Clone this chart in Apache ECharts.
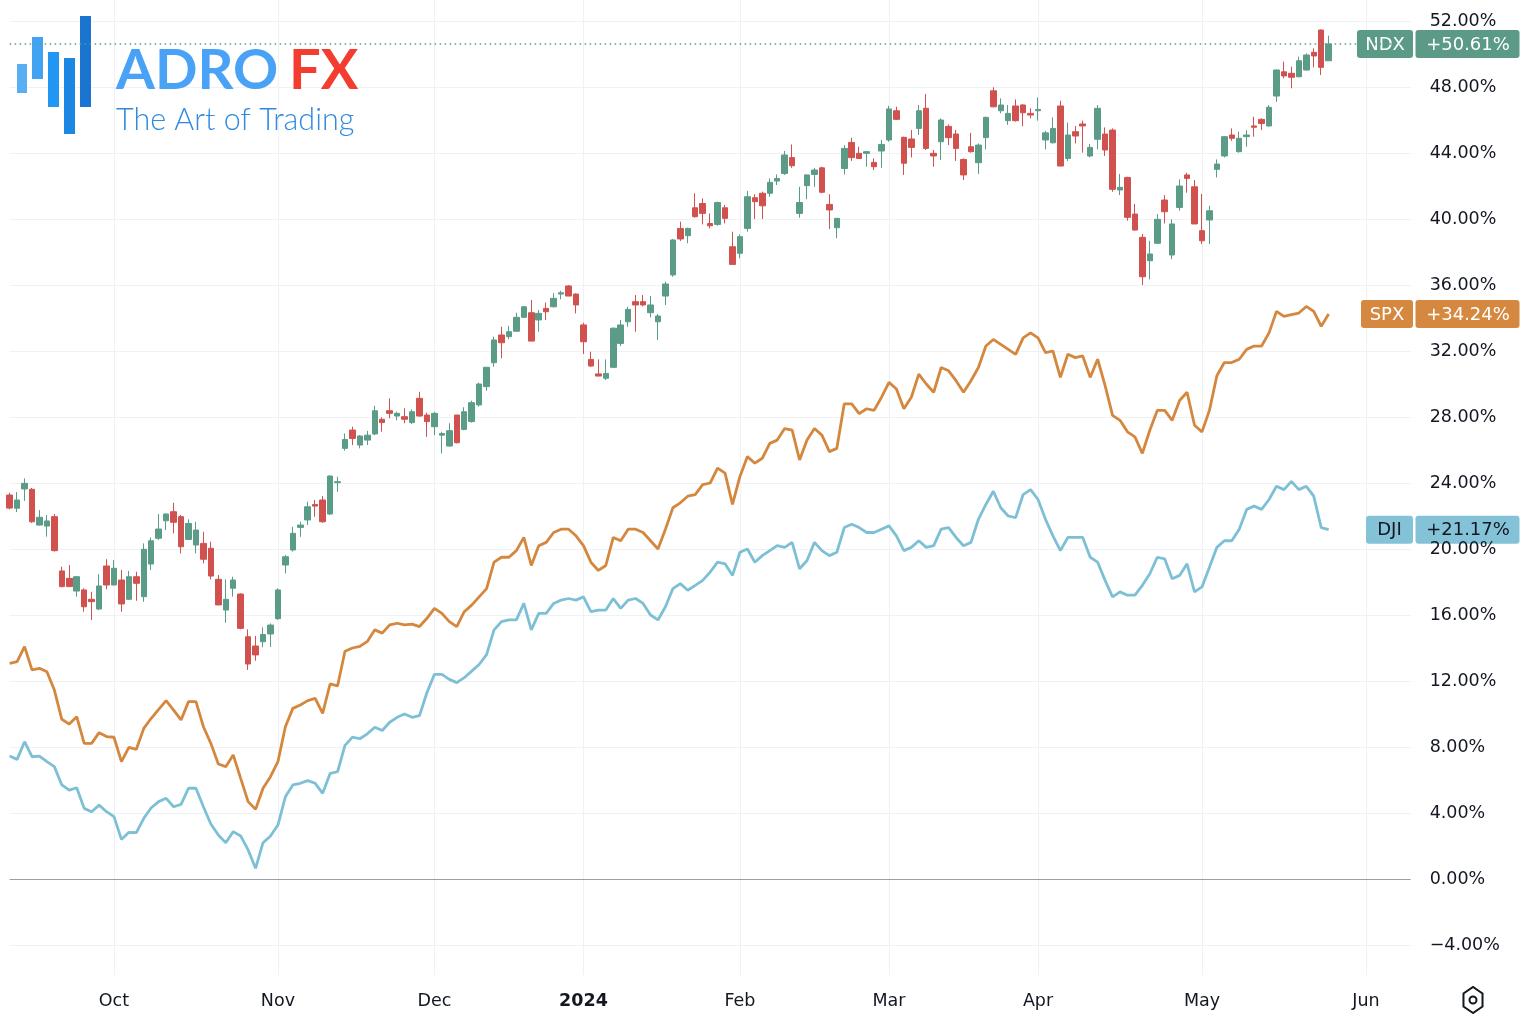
<!DOCTYPE html>
<html>
<head>
<meta charset="utf-8">
<script src="https://cdn.jsdelivr.net/npm/echarts@6/dist/echarts.min.js"></script>
<style>
html,body{margin:0;padding:0;background:#ffffff;}
#chart{width:1522px;height:1016px;}
</style>
</head>
<body>
<div id="chart"></div>
<script>
// ---------- DATA ----------
const firstDay = '2023-09-12';
const holidays = ['2023-11-23','2023-12-25','2024-01-01','2024-01-15','2024-02-19','2024-03-29','2024-05-27','2024-06-19'];
const categoryCount = 189;

const ndxOpen = [23.27,22.47,23.64,23.62,21.45,21.39,21.96,18.67,18.22,17.45,17.52,16.95,16.36,18.97,17.82,18.12,16.95,18.32,17.11,19.09,
20.65,21.71,22.26,21.96,20.58,20.24,20.34,20.04,18.16,16.30,17.62,17.27,14.68,14.12,14.38,14.85,15.78,19.03,19.94,21.31,
21.76,22.7,22.97,22.12,24.02,26.1,27.21,26.3,26.6,26.97,27.86,28.38,28.06,28.02,27.66,29.13,28.12,27.41,26.9,26.24,
28.12,27.25,27.72,28.73,29.84,31.29,32.97,32.87,33.2,34.04,34.32,33.88,34.58,34.68,35.45,35.94,35.45,33.58,31.49,30.61,
30.35,31.01,32.46,33.77,34.99,34.99,34.32,33.77,35.33,36.61,39.43,38.99,40.68,40.94,39.73,39.67,40.68,38.32,37.92,39.43,
41.29,41.56,41.56,42.3,42.76,43.72,40.34,42.02,42.7,43.1,40.88,39.47,43.06,44.64,43.98,43.98,43.43,44.12,44.79,46.56,
44.95,44.85,45.49,46.71,43.98,44.68,45.61,45.15,43.61,44.38,43.41,44.93,47.77,46.56,45.96,46.85,46.91,46.4,46.56,44.79,
44.62,46.85,43.67,45.29,45.76,43.82,44.83,45.15,45.39,41.76,42.52,40.3,38.89,37.47,38.53,41.15,37.82,40.7,42.67,41.95,
39.29,39.94,43.01,43.82,45.09,44.08,44.99,45.64,46.04,45.64,47.45,48.92,48.83,48.62,49.03,50.1,51.45,49.59];
const ndxClose = [22.48,22.97,23.98,21.65,21.92,21.70,19.90,17.72,17.72,18.32,16.50,16.81,17.76,17.82,18.83,16.67,18.32,17.92,19.98,20.5,
21.21,22.12,21.62,20.14,21.55,21.15,19.38,18.36,16.61,16.95,18.12,15.19,13.03,13.58,14.82,15.39,17.52,19.53,20.95,21.45,
22.56,22.6,21.65,24.42,24.08,26.64,26.7,26.85,26.9,28.38,27.66,28.22,28.22,27.86,28.32,28.06,27.72,28.22,27.0,27.17,
26.44,28.32,28.87,30.0,31.01,32.67,32.5,33.17,34.04,34.68,32.6,34.28,34.38,35.19,35.53,35.33,34.79,32.56,31.09,30.48,
30.64,33.38,33.58,34.52,34.79,34.79,34.79,34.12,36.06,38.73,38.79,39.43,40.14,40.34,39.59,41.0,40.04,37.25,38.93,41.35,
41.05,40.8,42.22,42.46,43.88,43.23,41.0,42.67,42.97,41.62,40.55,40.04,44.28,43.72,43.67,44.08,43.17,44.52,46.67,46.04,
43.38,44.34,46.56,44.28,43.82,46.0,44.93,44.28,42.67,44.08,44.48,46.16,46.8,46.91,46.4,45.96,46.44,46.3,46.64,45.22,
45.49,43.21,45.09,45.03,45.64,44.34,46.71,44.18,41.8,41.92,40.1,39.33,36.5,37.88,39.98,40.44,39.7,42.0,42.46,39.7,
38.68,40.5,43.33,44.99,44.89,44.89,45.09,45.56,45.79,46.77,49.03,48.67,48.59,49.59,49.94,49.88,49.19,50.61];
const ndxLow = [22.4,22.24,22.92,21.58,21.41,20.75,19.85,17.68,17.7,17.11,16.2,15.70,16.30,17.56,17.8,16.2,16.9,16.86,16.8,18.73,
20.55,21.15,20.95,19.73,20.55,19.73,19.13,18.16,16.6,15.53,17.11,15.13,12.67,13.23,14.04,14.07,15.7,18.52,19.84,20.74,
21.45,21.96,21.59,22.06,23.47,25.96,26.3,26.1,26.3,26.9,27.11,27.92,27.8,27.62,27.58,28.02,26.8,26.9,25.8,26.2,
26.4,27.2,27.66,28.63,29.59,31.04,31.56,32.71,33.17,34.04,32.6,33.17,33.88,34.64,35.13,35.33,34.28,31.82,31.04,30.48,
30.24,31.0,32.3,33.47,33.17,34.7,34.04,32.67,34.79,36.5,38.67,38.53,40.08,39.67,39.43,39.59,39.73,37.25,37.62,39.23,
40.0,40.0,41.35,42.06,42.67,43.1,40.08,41.2,41.95,41.56,39.39,38.83,42.7,43.52,43.64,43.17,42.97,43.1,44.68,46.0,
42.67,43.73,45.09,44.18,43.17,43.58,44.48,43.52,42.36,44.02,42.73,44.22,46.77,46.4,45.7,45.9,45.62,46.1,45.96,44.22,
44.58,43.2,43.52,44.58,44.02,43.73,44.22,43.82,41.65,41.45,39.9,39.29,36.0,36.34,38.48,39.73,37.56,40.5,41.59,39.7,
38.48,38.48,42.52,43.73,44.74,44.02,44.38,44.99,45.39,45.59,47.1,48.52,47.92,48.59,48.99,49.19,48.73,49.59];
const ndxHigh = [23.4,23.45,24.28,23.70,22.36,22.06,22.12,18.93,19.03,18.36,17.62,17.41,18.47,19.38,19.33,18.73,18.67,18.62,20.34,20.7,
22.12,22.16,22.8,22.06,21.8,21.65,21.05,20.44,18.42,18.16,18.32,17.31,15.13,14.73,15.25,15.49,17.62,19.64,21.35,21.65,
22.86,22.97,23.21,24.48,24.38,27.0,27.41,26.9,27.16,28.67,27.98,29.13,28.32,28.52,28.46,29.53,28.26,28.32,27.1,27.62,
28.12,28.59,28.99,30.08,31.04,32.87,33.47,33.52,34.32,34.72,35.09,34.48,34.93,35.5,35.65,36.0,35.49,33.71,31.96,31.49,
31.49,33.43,33.88,34.68,35.39,35.39,35.33,34.24,36.2,38.79,39.84,39.47,41.56,41.25,40.34,41.05,40.85,39.23,39.07,41.7,
41.5,41.66,42.46,42.7,44.12,44.52,41.95,42.7,43.1,43.17,41.5,40.06,44.48,44.93,44.38,44.12,43.67,44.79,46.86,46.81,
44.99,45.39,46.91,47.58,44.18,46.1,45.73,45.39,43.67,45.22,44.58,46.2,47.98,47.31,46.91,47.25,46.97,46.71,47.37,45.34,
46.16,47.17,45.84,45.64,45.96,44.55,46.91,45.55,45.49,42.73,42.56,40.91,39.09,38.68,40.3,41.45,39.98,42.4,42.8,42.36,
41.52,40.79,43.61,45.03,45.49,45.29,45.39,46.2,46.1,46.91,49.07,49.53,49.23,49.84,50.04,50.34,51.49,51.11];

const spxValues = [13.07,13.17,14.08,12.67,12.77,12.56,11.45,9.68,9.39,9.84,8.22,8.22,8.87,8.63,8.59,7.11,7.98,7.86,9.13,9.74,
10.28,10.81,10.24,9.64,10.75,10.75,9.23,8.22,6.97,6.81,7.52,6.1,4.69,4.22,5.5,6.2,7.11,9.23,10.34,10.55,
10.81,10.95,10.04,11.82,11.7,13.8,14.0,14.1,14.4,15.1,14.9,15.4,15.5,15.4,15.45,15.3,15.8,16.4,16.1,15.6,
15.3,16.2,16.6,17.1,17.6,19.2,19.5,19.5,19.9,20.7,19.0,20.2,20.4,21.0,21.2,21.2,20.8,20.2,19.2,18.7,
19.0,20.7,20.5,21.2,21.2,21.0,20.5,20.0,21.2,22.5,22.8,23.2,23.3,23.9,24.0,24.9,24.6,22.7,24.4,25.6,
25.2,25.5,26.4,26.6,27.3,27.2,25.4,26.6,27.3,26.9,25.9,26.1,28.8,28.8,28.2,28.5,28.4,29.2,30.1,29.7,
28.5,29.2,30.6,30.0,29.5,31.0,30.8,30.2,29.5,30.2,31.0,32.3,32.7,32.4,32.1,31.8,32.8,33.1,32.8,31.9,
32.0,30.4,31.8,31.6,31.7,30.4,31.5,29.9,28.1,27.8,27.1,26.8,25.8,27.2,28.4,28.4,27.8,29.0,29.5,27.5,
27.1,28.4,30.5,31.3,31.3,31.5,32.1,32.3,32.3,33.1,34.4,34.1,34.2,34.3,34.7,34.4,33.5,34.24];

const djiValues = [7.45,7.25,8.32,7.41,7.45,7.11,6.81,5.7,5.39,5.53,4.28,4.08,4.48,4.08,3.78,2.4,2.83,2.81,3.68,4.32,
4.69,4.89,4.38,4.52,5.5,5.5,4.38,3.33,2.67,2.2,2.87,2.61,1.76,0.65,2.2,2.61,3.27,4.98,5.7,5.8,
5.96,5.8,5.19,6.4,6.5,8.1,8.6,8.5,8.8,9.2,9.0,9.5,9.8,10.0,9.8,9.9,11.3,12.4,12.4,12.1,
11.9,12.2,12.6,13.0,13.6,15.1,15.6,15.7,15.7,16.7,15.1,16.1,16.1,16.7,16.9,17.0,16.9,17.1,16.2,16.3,
16.3,17.0,16.4,16.9,17.0,16.7,16.0,15.7,16.5,17.6,17.9,17.5,17.8,18.1,18.6,19.2,19.1,18.4,19.8,20.0,
19.2,19.6,19.9,20.2,20.1,20.4,18.8,19.3,20.4,19.9,19.6,19.8,21.3,21.5,21.3,21.0,21.0,21.2,21.4,20.8,
19.9,20.1,20.5,20.1,20.2,21.2,21.3,20.7,20.2,20.4,21.8,22.7,23.5,22.5,22.0,21.9,23.3,23.6,23.0,21.8,
20.8,19.9,20.7,20.7,20.7,19.5,19.2,18.1,17.1,17.4,17.2,17.2,17.8,18.5,19.5,19.4,18.2,18.4,19.1,17.4,
17.7,18.9,20.1,20.5,20.5,21.2,22.4,22.6,22.4,23.0,23.8,23.6,24.1,23.6,23.8,23.2,21.3,21.17];

const seriesNames = ['NDX','SPX','DJI'];
const yMin = -8, yMax = 56, yStep = 4;
const monthNames = ['Jan','Feb','Mar','Apr','May','Jun','Jul','Aug','Sep','Oct','Nov','Dec'];

// ---------- CATEGORIES (trading days) ----------
function tradingDays(start, count, skip) {
  const out = [];
  const d = new Date(start + 'T00:00:00Z');
  while (out.length < count) {
    const iso = d.toISOString().slice(0, 10);
    const wd = d.getUTCDay();
    if (wd !== 0 && wd !== 6 && skip.indexOf(iso) < 0) out.push(iso);
    d.setUTCDate(d.getUTCDate() + 1);
  }
  return out;
}
const dates = tradingDays(firstDay, categoryCount, holidays);
const monthStart = new Set();
for (let i = 1; i < dates.length; i++) {
  if (dates[i].slice(5, 7) !== dates[i - 1].slice(5, 7)) monthStart.add(i);
}
const candleData = ndxOpen.map((o, i) => [o, ndxClose[i], ndxLow[i], ndxHigh[i]]);

// ---------- STYLE ----------
const UP = '#5b9c88', DOWN = '#d1514f', SPXC = '#d4873d', DJIC = '#7dc0d5';
const GRIDC = '#eff1f5';
const FONT = '"DejaVu Sans", sans-serif';
const step = 7.452, firstX = 9.65;
const gridLeft = firstX;
const gridRight = 1522 - (firstX + (categoryCount - 1) * step);
// split-line colours from min to max: hide the off-chart -8% line
const hLineColors = [];
for (let v = yMin; v <= yMax; v += yStep) hLineColors.push(v < -6 ? 'rgba(255,255,255,0)' : GRIDC);

const chart = echarts.init(document.getElementById('chart'), null, {renderer: 'canvas'});

const option = {
  animation: false,
  backgroundColor: '#ffffff',
  grid: [
    {left: gridLeft, right: gridRight, top: -45, bottom: 5, containLabel: false, outerBoundsMode: 'none'},
    {left: gridLeft, right: gridRight, top: 0, bottom: 41, containLabel: false, outerBoundsMode: 'none'}
  ],
  xAxis: [
    {type: 'category', gridIndex: 0, data: dates, boundaryGap: false, show: false},
    {type: 'category', gridIndex: 1, data: dates, boundaryGap: false,
     axisLine: {show: false}, axisTick: {show: false},
     splitLine: {show: true, interval: (i) => monthStart.has(i), lineStyle: {color: GRIDC, width: 1}},
     axisLabel: {
       interval: (i) => monthStart.has(i),
       margin: 17,
       color: '#131722', fontFamily: FONT, fontSize: 17.5,
       formatter: (v) => {
         const m = parseInt(v.slice(5, 7), 10) - 1;
         return m === 0 ? '{y|' + v.slice(0, 4) + '}' : monthNames[m];
       },
       rich: {y: {fontWeight: 'bold', fontFamily: FONT, fontSize: 17.5, color: '#131722'}}
     }}
  ],
  yAxis: [
    {type: 'value', gridIndex: 0, position: 'right', min: yMin, max: yMax, interval: yStep,
     axisLine: {show: false}, axisTick: {show: false},
     splitLine: {show: true, lineStyle: {color: hLineColors, width: 1}},
     axisLabel: {
       margin: 19, color: '#131722', fontFamily: FONT, fontSize: 17.5,
       formatter: (v) => (v < -6 || v > 54) ? '' : (v < 0 ? '\u2212' : '') + Math.abs(v).toFixed(2) + '%'
     }},
    {type: 'value', gridIndex: 1, min: 0, max: 1, show: false}
  ],
  series: [
    {name: seriesNames[1], type: 'line', xAxisIndex: 0, yAxisIndex: 0, data: spxValues,
     symbol: 'none', lineStyle: {color: SPXC, width: 2.8}, itemStyle: {color: SPXC}, z: 3,
     markLine: {silent: true, symbol: 'none', animation: false,
       label: {show: false}, lineStyle: {color: '#9a9ea8', width: 1.2, type: 'solid'},
       data: [{yAxis: 0}]}},
    {name: seriesNames[2], type: 'line', xAxisIndex: 0, yAxisIndex: 0, data: djiValues,
     symbol: 'none', lineStyle: {color: DJIC, width: 2.8}, itemStyle: {color: DJIC}, z: 3},
    {name: seriesNames[0], type: 'candlestick', xAxisIndex: 0, yAxisIndex: 0, data: candleData,
     barWidth: 6, z: 4,
     itemStyle: {color: UP, color0: DOWN, borderColor: UP, borderColor0: DOWN, borderWidth: 1},
     markLine: {silent: true, symbol: 'none', animation: false,
       label: {show: false}, lineStyle: {color: UP, width: 1.5, type: [1.5, 3.5]},
       data: [{yAxis: ndxClose[ndxClose.length - 1]}]}}
  ]
};
chart.setOption(option);

// ---------- right-side value tags, logo, icon ----------
function tag(name, value, bg, fg, nameW) {
  const y = chart.convertToPixel({yAxisIndex: 0}, value);
  const h = 28;
  return {type: 'group', children: [
    {type: 'rect', shape: {x: 1413 - nameW, y: y - h / 2, width: nameW, height: h, r: 3}, style: {fill: bg}},
    {type: 'rect', shape: {x: 1415.5, y: y - h / 2, width: 104, height: h, r: 3}, style: {fill: bg}},
    {type: 'text', style: {x: 1413 - nameW / 2, y: y + 1, text: name, fill: fg, font: '18px ' + FONT,
      align: 'center', verticalAlign: 'middle', textAlign: 'center', textVerticalAlign: 'middle'}},
    {type: 'text', style: {x: 1468, y: y + 1, text: '+' + value.toFixed(2) + '%', fill: fg, font: '18px ' + FONT,
      align: 'center', verticalAlign: 'middle', textAlign: 'center', textVerticalAlign: 'middle'}}
  ]};
}
const hx = 1473, hy = 1000;
const hex = [];
for (let k = 0; k < 6; k++) {
  const a = Math.PI / 2 + k * Math.PI / 3;
  hex.push([hx + 11 * Math.cos(a), hy + 13 * Math.sin(a)]);
}
chart.setOption({
  graphic: [
    {type: 'rect', shape: {x: 17, y: 64, width: 10, height: 29}, style: {fill: '#5aaef2'}},
    {type: 'rect', shape: {x: 32, y: 37, width: 11, height: 42}, style: {fill: '#42a3f3'}},
    {type: 'rect', shape: {x: 48, y: 52, width: 11, height: 55}, style: {fill: '#2196f3'}},
    {type: 'rect', shape: {x: 64, y: 58, width: 11, height: 76}, style: {fill: '#1c86e3'}},
    {type: 'rect', shape: {x: 80, y: 16, width: 11, height: 91}, style: {fill: '#1a74d0'}},
    {type: 'text', style: {x: 116, y: 71, text: 'ADRO', fill: '#4aa2f6', font: 'bold 56px Lato, "Open Sans", sans-serif',
      align: 'left', verticalAlign: 'middle', textAlign: 'left', textVerticalAlign: 'middle'}},
    {type: 'text', style: {x: 289, y: 71, text: 'FX', fill: '#f23d30', font: 'bold 56px Lato, "Open Sans", sans-serif',
      align: 'left', verticalAlign: 'middle', textAlign: 'left', textVerticalAlign: 'middle'}},
    {type: 'text', style: {x: 116, y: 120, text: 'The Art of Trading', fill: '#2f8ae0', font: '300 30.5px Lato, "Open Sans", sans-serif',
      align: 'left', verticalAlign: 'middle', textAlign: 'left', textVerticalAlign: 'middle'}},
    tag(seriesNames[0], ndxClose[ndxClose.length - 1], '#5b9a86', '#ffffff', 56),
    tag(seriesNames[1], spxValues[spxValues.length - 1], '#d5883f', '#ffffff', 52),
    tag(seriesNames[2], djiValues[djiValues.length - 1], '#84c3d7', '#131722', 47),
    {type: 'polygon', shape: {points: hex}, style: {fill: 'none', stroke: '#131722', lineWidth: 2}},
    {type: 'circle', shape: {cx: hx, cy: hy, r: 3.5}, style: {fill: 'none', stroke: '#131722', lineWidth: 2}}
  ]
});
</script>
</body>
</html>
